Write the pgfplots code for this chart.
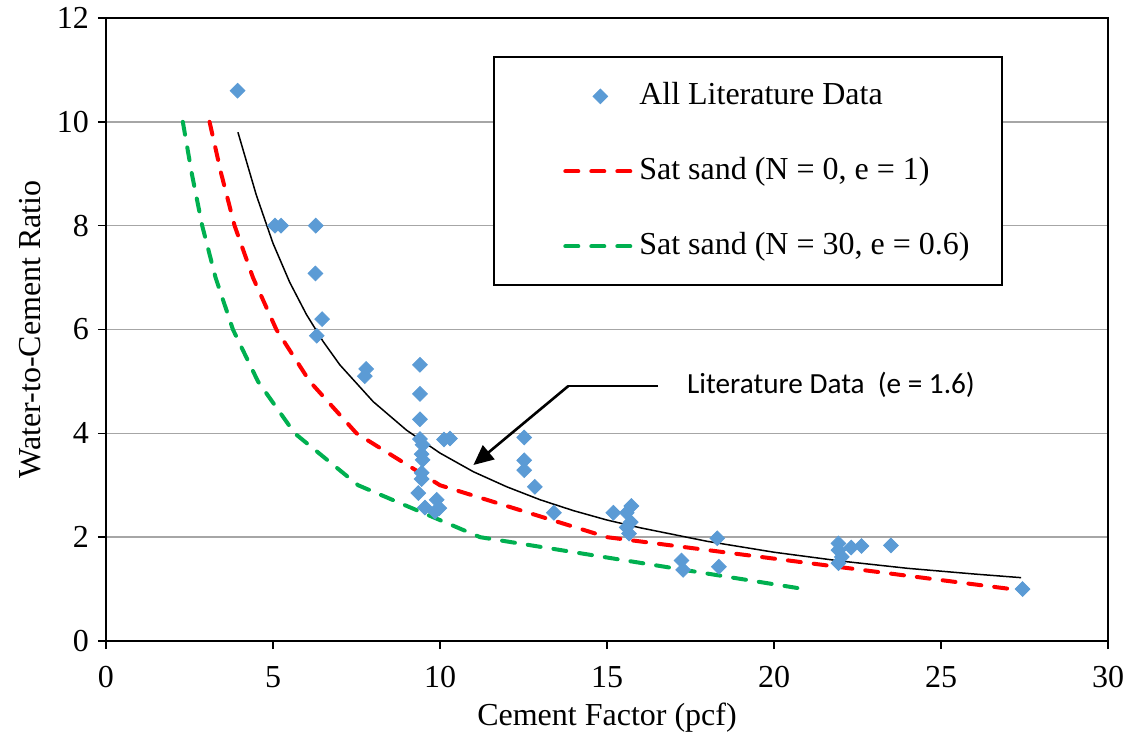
\documentclass[border=0pt]{standalone}
\usepackage{pgfplots}
\pgfplotsset{compat=1.18}
\usepackage{fontspec}
\setmainfont{Liberation Serif}
\newfontfamily\calibri{Carlito}
\usetikzlibrary{arrows.meta}
\definecolor{ptblue}{HTML}{5B9BD5}
\definecolor{lred}{HTML}{FF0000}
\definecolor{lgreen}{HTML}{00B050}
\definecolor{gridgray}{HTML}{A6A6A6}
\begin{document}
\begin{tikzpicture}
\begin{axis}[
  scale only axis, width=501pt, height=311.5pt,
  xmin=0, xmax=30, ymin=0, ymax=12,
  xtick={0,5,...,30}, ytick={0,2,...,12},
  tick pos=left, tick align=outside, major tick length=4pt,
  tick style={black, line width=0.8pt},
  axis line style={line width=1pt},
  ymajorgrids, grid style={gridgray, line width=0.75pt},
  ticklabel style={font=\rmfamily\fontsize{16}{19}\selectfont},
  xticklabel style={yshift=-5pt},
  yticklabel style={xshift=-1pt},
  /pgf/number format/assume math mode=true,
  xlabel={Cement Factor (pcf)}, ylabel={Water-to-Cement Ratio},
  label style={font=\rmfamily\fontsize{16}{19}\selectfont},
  xlabel style={at={(axis description cs:0.5,-0.1236)}, anchor=center},
  ylabel style={at={(axis description cs:-0.0758,0.5)}, anchor=center},
  reverse legend,
  legend style={draw=none, fill=none, at={(rel axis cs:0.456,0.9005)}, anchor=north west,
    inner sep=0pt, font=\rmfamily\fontsize{16}{19}\selectfont, row sep=21.5pt, column sep=1pt,
    nodes={inner sep=0pt, text height=12pt, text depth=4pt}, cells={anchor=west}},
  legend image code/.code={\draw[mark repeat=2,mark phase=2,#1] plot coordinates {(0pt,0pt)(17.5pt,0pt)(35pt,0pt)};},
]
\coordinate (SW) at (rel axis cs:0,0);
\coordinate (NE) at (rel axis cs:1,1);
\draw[line width=1pt, fill=white] (rel axis cs:0.3872,0.5722) rectangle (rel axis cs:0.8942,0.9374);

% fitted literature curve
\addplot[black, line width=0.75pt, forget plot] coordinates {
(3.95,9.80)(4.25,9.14)(4.5,8.59)(5,7.66)(5.5,6.91)(6,6.29)(6.5,5.77)(7,5.32)(8,4.61)(9,4.06)
(10,3.62)(11,3.26)(12,2.97)(13,2.72)(14,2.51)(15,2.33)(16,2.18)(18,1.92)(20,1.71)(22,1.54)
(24,1.40)(26,1.29)(27.4,1.22)};

\addplot[lgreen, line width=2pt, line cap=round, dash pattern=on 6.5pt off 6.5pt] coordinates {
(2.3,10)(2.57,9)(2.88,8)(3.28,7)(3.8,6)(4.55,5)(5.65,4)(7.55,3)(11.2,2)(20.9,1)};
\addlegendentry{Sat sand (N = 30, e = 0.6)}

\addplot[lred, line width=2pt, line cap=round, dash pattern=on 6.5pt off 6.5pt] coordinates {
(3.1,10)(3.45,9)(3.85,8)(4.4,7)(5.1,6)(6.1,5)(7.5,4)(10,3)(15,2)(27.1,1)};
\addlegendentry{Sat sand (N = 0, e = 1)}

\addplot[only marks, mark=square*, mark size=2.6pt, mark options={rotate=45, fill=ptblue, draw=ptblue}] coordinates {
(3.94,10.6)(5.06,8.0)(5.24,8.0)(6.28,8.0)(6.27,7.08)(6.47,6.2)(6.31,5.88)(7.79,5.24)(7.75,5.10)
(9.40,5.32)(9.40,4.76)(9.40,4.27)(9.40,3.89)(9.48,3.78)(9.45,3.60)(9.48,3.49)(9.45,3.24)(9.45,3.12)
(9.35,2.85)(9.55,2.57)(9.90,2.72)(9.85,2.49)(9.98,2.56)(10.12,3.88)(10.3,3.90)
(12.52,3.92)(12.52,3.48)(12.52,3.29)(12.84,2.97)(13.41,2.47)
(15.19,2.47)(15.73,2.60)(15.59,2.47)(15.71,2.29)(15.59,2.19)(15.66,2.07)
(17.23,1.55)(17.28,1.37)(18.30,1.98)(18.35,1.43)
(21.93,1.88)(21.93,1.75)(22.03,1.62)(21.93,1.50)(22.31,1.80)(22.62,1.83)(23.50,1.84)(27.44,1.0)};
\addlegendentry{All Literature Data}

\draw[line width=1.3pt] (axis cs:16.53,4.91) -- (axis cs:13.84,4.91);
\draw[line width=1.3pt, -{Triangle[length=10pt,width=9pt]}] (axis cs:13.84,4.91) -- (axis cs:11.0,3.39);
\node[anchor=west, inner sep=0pt, font=\calibri\fontsize{14.6}{17}\selectfont] at (axis cs:17.39,4.93) {Literature Data~~(e = 1.6)};
\end{axis}
\pgfresetboundingbox
\path[use as bounding box] ([xshift=-53pt,yshift=-51.5pt]SW) rectangle ([xshift=13pt,yshift=9pt]NE);
\end{tikzpicture}
\end{document}
